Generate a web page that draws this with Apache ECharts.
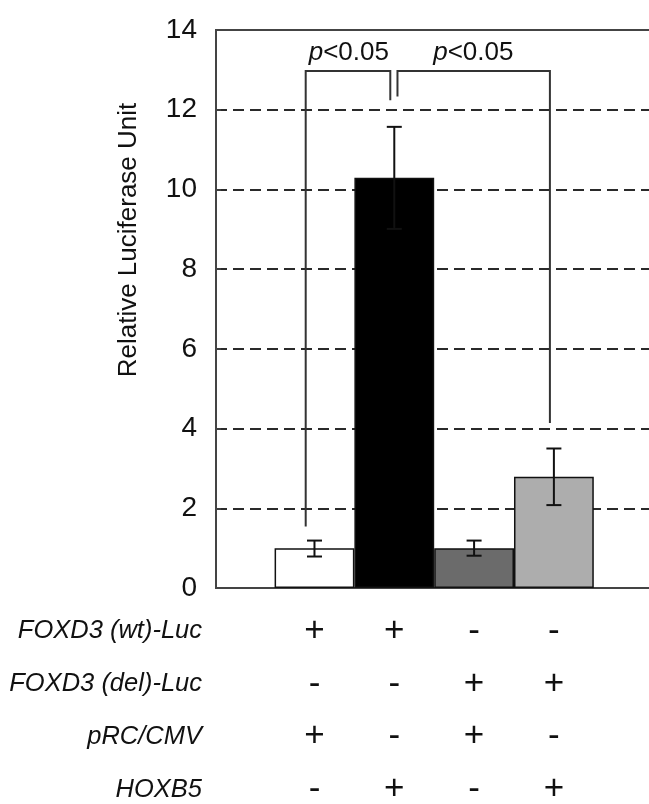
<!DOCTYPE html>
<html>
<head>
<meta charset="utf-8">
<script src="https://cdn.jsdelivr.net/npm/echarts@6/dist/echarts.min.js"></script>
<style>
    html, body { margin: 0; padding: 0; background: #fff; }
    #chart { width: 649px; height: 804px; }
</style>
</head>
<body>
<div id="chart"></div>
<script>
// conditions (x position of each bar) and measured values
var conditions = [1, 2, 3, 4];
var means = [1.0, 10.29, 1.0, 2.79];
var errHigh = [1.19, 11.57, 1.19, 3.5];
var errLow = [0.79, 9.01, 0.81, 2.08];
var barColors = ["#ffffff", "#000000", "#6b6b6b", "#adadad"];

// y axis
var yMin = 0;
var yMax = 14;
var yStep = 2;

// table under the bars
var rowNames = ["FOXD3 (wt)-Luc", "FOXD3 (del)-Luc", "pRC/CMV", "HOXB5"];
var rowSigns = [
    ["+", "+", "-", "-"],
    ["-", "-", "+", "+"],
    ["+", "-", "+", "-"],
    ["-", "+", "-", "+"]
];

// significance brackets: [x start, y start, x end, y end, y top]
var brackets = [
    [0.89, 1.54, 1.95, 12.24, 12.97],
    [2.04, 12.33, 3.95, 4.14, 12.97]
];
// p labels: [x, y]
var pPositions = [[1.43, 13.42], [2.99, 13.42]];
var pText = "p<0.05";

var FONT = "'Liberation Sans', Arial, sans-serif";
var TEXT_COLOR = "#111";
var rowLineHeight = 52.7;

var chart = echarts.init(document.getElementById("chart"), null, { renderer: "canvas" });

var barData = conditions.map(function (c, i) {
    return { value: [c, means[i]], itemStyle: { color: barColors[i] } };
});
var errData = conditions.map(function (c, i) {
    return [c, errLow[i], errHigh[i]];
});

var option = {
    animation: false,
    backgroundColor: "#fff",
    grid: {
        left: 216,
        top: 30,
        width: 457.6,
        height: 558,
        outerBoundsMode: "none",
        containLabel: false,
        show: true,
        borderColor: "#444",
        borderWidth: 2
    },
    xAxis: {
        type: "value",
        min: -0.234,
        max: 5.5,
        axisLine: { show: false, onZero: false },
        axisTick: { show: false },
        splitLine: { show: false },
        axisLabel: {
            customValues: conditions,
            margin: 17,
            formatter: function (v) {
                var i = conditions.indexOf(v);
                return rowSigns.map(function (row) {
                    return "{s|" + row[i] + "}";
                }).join("\n");
            },
            rich: {
                s: { fontSize: 35, lineHeight: rowLineHeight, color: TEXT_COLOR, fontFamily: FONT }
            }
        }
    },
    yAxis: {
        type: "value",
        min: yMin,
        max: yMax,
        interval: yStep,
        name: "Relative Luciferase Unit",
        nameLocation: "middle",
        nameGap: 74,
        nameTextStyle: {
            fontSize: 26,
            color: TEXT_COLOR,
            fontFamily: FONT,
            padding: [0, 0, 0, 138]
        },
        axisLine: { show: true, onZero: false, lineStyle: { color: "#444", width: 2 } },
        axisTick: { show: true, inside: true, length: 5, lineStyle: { color: "#444", width: 1.5 } },
        axisLabel: { fontSize: 28, color: TEXT_COLOR, margin: 19, fontFamily: FONT },
        splitLine: {
            show: true,
            showMinLine: false,
            showMaxLine: false,
            lineStyle: { type: [11, 6], color: "#2a2a2a", width: 2 }
        }
    },
    graphic: [
        {
            type: "text",
            x: 202,
            y: 588 + 17,
            style: {
                text: rowNames.join("\n"),
                font: "italic 25.5px " + FONT,
                lineHeight: rowLineHeight,
                align: "right",
                verticalAlign: "top",
                fill: TEXT_COLOR
            }
        }
    ],
    series: [
        {
            type: "bar",
            data: barData,
            barWidth: 79.8,
            itemStyle: { borderColor: "#111", borderWidth: 1.5 },
            z: 2
        },
        {
            type: "custom",
            data: errData,
            encode: { x: 0, y: [1, 2] },
            z: 3,
            renderItem: function (params, api) {
                var x = api.value(0);
                var lo = api.coord([x, api.value(1)]);
                var hi = api.coord([x, api.value(2)]);
                var cap = 7.5;
                var st = { stroke: "#111", lineWidth: 2 };
                return {
                    type: "group",
                    children: [
                        { type: "line", shape: { x1: lo[0], y1: lo[1], x2: hi[0], y2: hi[1] }, style: st },
                        { type: "line", shape: { x1: lo[0] - cap, y1: lo[1], x2: lo[0] + cap, y2: lo[1] }, style: st },
                        { type: "line", shape: { x1: hi[0] - cap, y1: hi[1], x2: hi[0] + cap, y2: hi[1] }, style: st }
                    ]
                };
            }
        },
        {
            type: "custom",
            data: brackets,
            encode: { x: [0, 2], y: [1, 3, 4] },
            z: 3,
            renderItem: function (params, api) {
                var p1 = api.coord([api.value(0), api.value(1)]);
                var p2 = api.coord([api.value(0), api.value(4)]);
                var p3 = api.coord([api.value(2), api.value(4)]);
                var p4 = api.coord([api.value(2), api.value(3)]);
                return {
                    type: "polyline",
                    shape: { points: [p1, p2, p3, p4] },
                    style: { stroke: "#333", lineWidth: 2, fill: null }
                };
            }
        },
        {
            type: "custom",
            data: pPositions,
            encode: { x: 0, y: 1 },
            z: 3,
            renderItem: function (params, api) {
                var p = api.coord([api.value(0), api.value(1)]);
                return {
                    type: "text",
                    x: p[0],
                    y: p[1],
                    style: {
                        text: "{i|" + pText.charAt(0) + "}{n|" + pText.substr(1) + "}",
                        align: "center",
                        verticalAlign: "middle",
                        rich: {
                            i: { fontStyle: "italic", fontSize: 26, fontFamily: FONT, fill: TEXT_COLOR },
                            n: { fontSize: 26, fontFamily: FONT, fill: TEXT_COLOR }
                        }
                    }
                };
            }
        }
    ]
};

chart.setOption(option);
</script>
</body>
</html>
